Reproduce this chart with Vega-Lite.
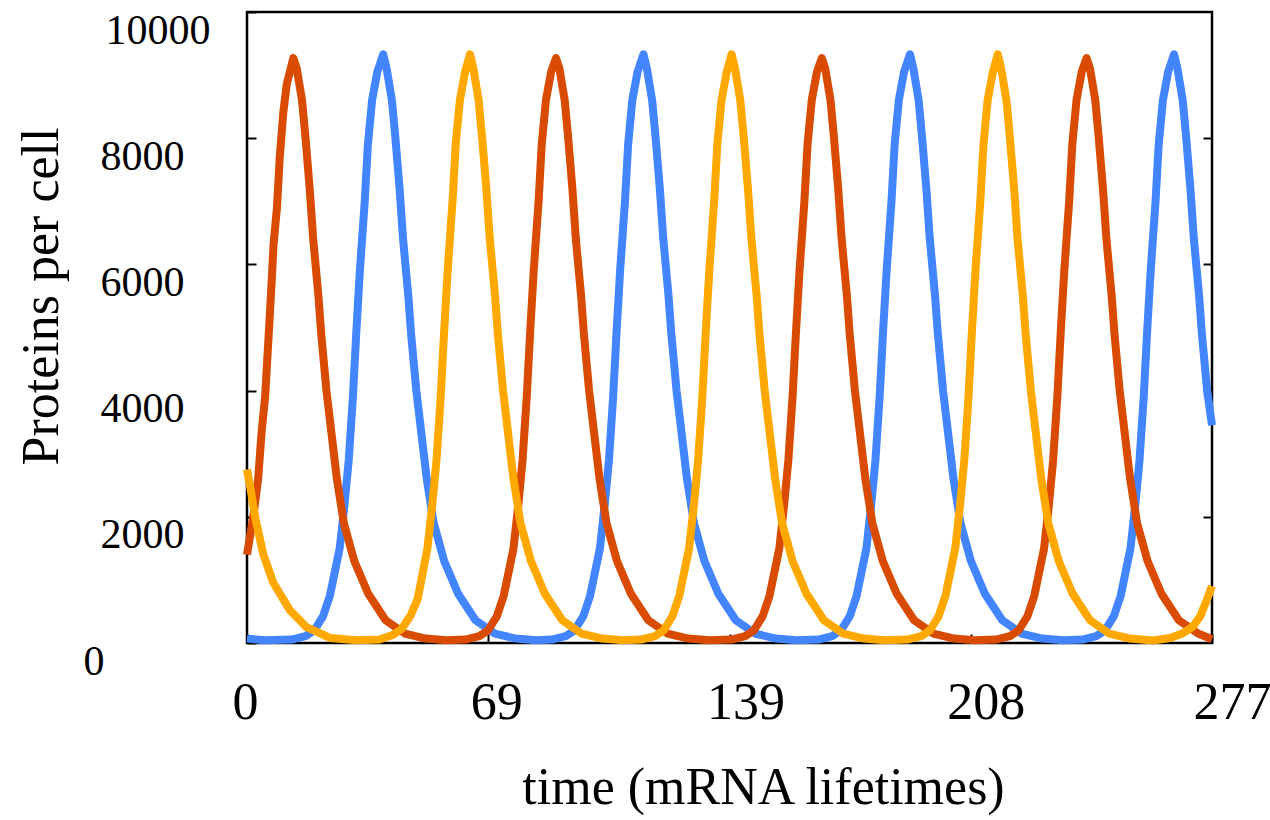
{
  "$schema": "https://vega.github.io/schema/vega-lite/v6.json",
  "width": 965,
  "height": 631,
  "autosize": "none",
  "padding": {"left": 247, "top": 12, "right": 58, "bottom": 177},
  "background": "white",
  "view": {"stroke": "black", "strokeWidth": 2.5},
  "config": {
    "axis": {"labelFont": "Liberation Serif", "titleFont": "Liberation Serif", "labelColor": "black", "titleColor": "black", "tickColor": "black", "tickWidth": 2, "grid": false, "domain": false, "titleFontWeight": "normal", "labelOverlap": false, "labelBound": false, "labelFlush": false}
  },
  "data": {"values": [
    {"s":"P1","t":0,"v":70},{"s":"P1","t":5,"v":45},{"s":"P1","t":12.8,"v":55},{"s":"P1","t":16.8,"v":110},{"s":"P1","t":19.3,"v":200},{"s":"P1","t":21.8,"v":420},{"s":"P1","t":23.8,"v":750},{"s":"P1","t":26.6,"v":1500},{"s":"P1","t":28.0,"v":2200},{"s":"P1","t":29.2,"v":2900},{"s":"P1","t":30.4,"v":3900},{"s":"P1","t":31.4,"v":4950},{"s":"P1","t":32.4,"v":5900},{"s":"P1","t":33.8,"v":7000},{"s":"P1","t":34.7,"v":7900},{"s":"P1","t":35.9,"v":8600},{"s":"P1","t":37.4,"v":9050},{"s":"P1","t":39.1,"v":9330},
    {"s":"P1","t":40.1,"v":9100},{"s":"P1","t":41.6,"v":8600},{"s":"P1","t":42.6,"v":8000},{"s":"P1","t":43.8,"v":7200},{"s":"P1","t":44.8,"v":6400},{"s":"P1","t":46.3,"v":5500},{"s":"P1","t":47.1,"v":4900},{"s":"P1","t":48.6,"v":4000},{"s":"P1","t":50.1,"v":3300},{"s":"P1","t":51.6,"v":2600},{"s":"P1","t":53.6,"v":1900},{"s":"P1","t":56.6,"v":1300},{"s":"P1","t":60.6,"v":780},{"s":"P1","t":65.6,"v":360},{"s":"P1","t":71.1,"v":150},{"s":"P1","t":77.1,"v":70},{"s":"P1","t":83.1,"v":45},
    {"s":"P1","t":87.5,"v":55},{"s":"P1","t":91.5,"v":110},{"s":"P1","t":94.0,"v":200},{"s":"P1","t":96.5,"v":420},{"s":"P1","t":98.5,"v":750},{"s":"P1","t":101.3,"v":1500},{"s":"P1","t":102.7,"v":2200},{"s":"P1","t":103.9,"v":2900},{"s":"P1","t":105.1,"v":3900},{"s":"P1","t":106.1,"v":4950},{"s":"P1","t":107.1,"v":5900},{"s":"P1","t":108.5,"v":7000},{"s":"P1","t":109.4,"v":7900},{"s":"P1","t":110.6,"v":8600},{"s":"P1","t":112.1,"v":9050},{"s":"P1","t":113.8,"v":9330},
    {"s":"P1","t":114.8,"v":9100},{"s":"P1","t":116.3,"v":8600},{"s":"P1","t":117.3,"v":8000},{"s":"P1","t":118.5,"v":7200},{"s":"P1","t":119.5,"v":6400},{"s":"P1","t":121.0,"v":5500},{"s":"P1","t":121.8,"v":4900},{"s":"P1","t":123.3,"v":4000},{"s":"P1","t":124.8,"v":3300},{"s":"P1","t":126.3,"v":2600},{"s":"P1","t":128.3,"v":1900},{"s":"P1","t":131.3,"v":1300},{"s":"P1","t":135.3,"v":780},{"s":"P1","t":140.3,"v":360},{"s":"P1","t":145.8,"v":150},{"s":"P1","t":151.8,"v":70},{"s":"P1","t":157.8,"v":45},
    {"s":"P1","t":164.0,"v":55},{"s":"P1","t":168.0,"v":110},{"s":"P1","t":170.5,"v":200},{"s":"P1","t":173.0,"v":420},{"s":"P1","t":175.0,"v":750},{"s":"P1","t":177.8,"v":1500},{"s":"P1","t":179.2,"v":2200},{"s":"P1","t":180.4,"v":2900},{"s":"P1","t":181.6,"v":3900},{"s":"P1","t":182.6,"v":4950},{"s":"P1","t":183.6,"v":5900},{"s":"P1","t":185.0,"v":7000},{"s":"P1","t":185.9,"v":7900},{"s":"P1","t":187.1,"v":8600},{"s":"P1","t":188.6,"v":9050},{"s":"P1","t":190.3,"v":9330},
    {"s":"P1","t":191.3,"v":9100},{"s":"P1","t":192.8,"v":8600},{"s":"P1","t":193.8,"v":8000},{"s":"P1","t":195.0,"v":7200},{"s":"P1","t":196.0,"v":6400},{"s":"P1","t":197.5,"v":5500},{"s":"P1","t":198.3,"v":4900},{"s":"P1","t":199.8,"v":4000},{"s":"P1","t":201.3,"v":3300},{"s":"P1","t":202.8,"v":2600},{"s":"P1","t":204.8,"v":1900},{"s":"P1","t":207.8,"v":1300},{"s":"P1","t":211.8,"v":780},{"s":"P1","t":216.8,"v":360},{"s":"P1","t":222.3,"v":150},{"s":"P1","t":228.3,"v":70},{"s":"P1","t":234.3,"v":45},
    {"s":"P1","t":239.8,"v":55},{"s":"P1","t":243.8,"v":110},{"s":"P1","t":246.3,"v":200},{"s":"P1","t":248.8,"v":420},{"s":"P1","t":250.8,"v":750},{"s":"P1","t":253.6,"v":1500},{"s":"P1","t":255.0,"v":2200},{"s":"P1","t":256.2,"v":2900},{"s":"P1","t":257.4,"v":3900},{"s":"P1","t":258.4,"v":4950},{"s":"P1","t":259.4,"v":5900},{"s":"P1","t":260.8,"v":7000},{"s":"P1","t":261.7,"v":7900},{"s":"P1","t":262.9,"v":8600},{"s":"P1","t":264.4,"v":9050},{"s":"P1","t":266.1,"v":9330},
    {"s":"P1","t":267.1,"v":9100},{"s":"P1","t":268.6,"v":8600},{"s":"P1","t":269.6,"v":8000},{"s":"P1","t":270.8,"v":7200},{"s":"P1","t":271.8,"v":6400},{"s":"P1","t":273.3,"v":5500},{"s":"P1","t":274.1,"v":4900},{"s":"P1","t":275.6,"v":4000},{"s":"P1","t":277,"v":3450},

    {"s":"P2","t":0,"v":1400},{"s":"P2","t":1.8,"v":2000},{"s":"P2","t":3.2,"v":2600},{"s":"P2","t":4.2,"v":3350},{"s":"P2","t":5.2,"v":3900},{"s":"P2","t":6.4,"v":5050},{"s":"P2","t":7.1,"v":5750},{"s":"P2","t":7.6,"v":6300},{"s":"P2","t":8.6,"v":6900},{"s":"P2","t":9.4,"v":7700},{"s":"P2","t":10.4,"v":8400},{"s":"P2","t":11.4,"v":8850},{"s":"P2","t":13.3,"v":9270},
    {"s":"P2","t":14.3,"v":9100},{"s":"P2","t":15.8,"v":8600},{"s":"P2","t":16.8,"v":8000},{"s":"P2","t":18.0,"v":7200},{"s":"P2","t":19.0,"v":6400},{"s":"P2","t":20.5,"v":5500},{"s":"P2","t":21.3,"v":4900},{"s":"P2","t":22.8,"v":4000},{"s":"P2","t":24.3,"v":3300},{"s":"P2","t":25.8,"v":2600},{"s":"P2","t":27.8,"v":1900},{"s":"P2","t":30.8,"v":1300},{"s":"P2","t":34.8,"v":780},{"s":"P2","t":39.8,"v":360},{"s":"P2","t":45.3,"v":150},{"s":"P2","t":51.3,"v":70},{"s":"P2","t":57.3,"v":45},
    {"s":"P2","t":62.7,"v":55},{"s":"P2","t":66.7,"v":110},{"s":"P2","t":69.2,"v":200},{"s":"P2","t":71.7,"v":420},{"s":"P2","t":73.7,"v":750},{"s":"P2","t":76.5,"v":1500},{"s":"P2","t":77.9,"v":2200},{"s":"P2","t":79.1,"v":2900},{"s":"P2","t":80.3,"v":3900},{"s":"P2","t":81.3,"v":4950},{"s":"P2","t":82.3,"v":5900},{"s":"P2","t":83.7,"v":7000},{"s":"P2","t":84.6,"v":7900},{"s":"P2","t":85.8,"v":8600},{"s":"P2","t":87.3,"v":9050},{"s":"P2","t":88.7,"v":9270},
    {"s":"P2","t":89.7,"v":9100},{"s":"P2","t":91.2,"v":8600},{"s":"P2","t":92.2,"v":8000},{"s":"P2","t":93.4,"v":7200},{"s":"P2","t":94.4,"v":6400},{"s":"P2","t":95.9,"v":5500},{"s":"P2","t":96.7,"v":4900},{"s":"P2","t":98.2,"v":4000},{"s":"P2","t":99.7,"v":3300},{"s":"P2","t":101.2,"v":2600},{"s":"P2","t":103.2,"v":1900},{"s":"P2","t":106.2,"v":1300},{"s":"P2","t":110.2,"v":780},{"s":"P2","t":115.2,"v":360},{"s":"P2","t":120.7,"v":150},{"s":"P2","t":126.7,"v":70},{"s":"P2","t":132.7,"v":45},
    {"s":"P2","t":139.0,"v":55},{"s":"P2","t":143.0,"v":110},{"s":"P2","t":145.5,"v":200},{"s":"P2","t":148.0,"v":420},{"s":"P2","t":150.0,"v":750},{"s":"P2","t":152.8,"v":1500},{"s":"P2","t":154.2,"v":2200},{"s":"P2","t":155.4,"v":2900},{"s":"P2","t":156.6,"v":3900},{"s":"P2","t":157.6,"v":4950},{"s":"P2","t":158.6,"v":5900},{"s":"P2","t":160.0,"v":7000},{"s":"P2","t":160.9,"v":7900},{"s":"P2","t":162.1,"v":8600},{"s":"P2","t":163.6,"v":9050},{"s":"P2","t":165.0,"v":9270},
    {"s":"P2","t":166.0,"v":9100},{"s":"P2","t":167.5,"v":8600},{"s":"P2","t":168.5,"v":8000},{"s":"P2","t":169.7,"v":7200},{"s":"P2","t":170.7,"v":6400},{"s":"P2","t":172.2,"v":5500},{"s":"P2","t":173.0,"v":4900},{"s":"P2","t":174.5,"v":4000},{"s":"P2","t":176.0,"v":3300},{"s":"P2","t":177.5,"v":2600},{"s":"P2","t":179.5,"v":1900},{"s":"P2","t":182.5,"v":1300},{"s":"P2","t":186.5,"v":780},{"s":"P2","t":191.5,"v":360},{"s":"P2","t":197.0,"v":150},{"s":"P2","t":203.0,"v":70},{"s":"P2","t":209.0,"v":45},
    {"s":"P2","t":215.0,"v":55},{"s":"P2","t":219.0,"v":110},{"s":"P2","t":221.5,"v":200},{"s":"P2","t":224.0,"v":420},{"s":"P2","t":226.0,"v":750},{"s":"P2","t":228.8,"v":1500},{"s":"P2","t":230.2,"v":2200},{"s":"P2","t":231.4,"v":2900},{"s":"P2","t":232.6,"v":3900},{"s":"P2","t":233.6,"v":4950},{"s":"P2","t":234.6,"v":5900},{"s":"P2","t":236.0,"v":7000},{"s":"P2","t":236.9,"v":7900},{"s":"P2","t":238.1,"v":8600},{"s":"P2","t":239.6,"v":9050},{"s":"P2","t":241.0,"v":9270},
    {"s":"P2","t":242.0,"v":9100},{"s":"P2","t":243.5,"v":8600},{"s":"P2","t":244.5,"v":8000},{"s":"P2","t":245.7,"v":7200},{"s":"P2","t":246.7,"v":6400},{"s":"P2","t":248.2,"v":5500},{"s":"P2","t":249.0,"v":4900},{"s":"P2","t":250.5,"v":4000},{"s":"P2","t":252.0,"v":3300},{"s":"P2","t":253.5,"v":2600},{"s":"P2","t":255.5,"v":1900},{"s":"P2","t":258.5,"v":1300},{"s":"P2","t":262.5,"v":780},{"s":"P2","t":267.5,"v":360},{"s":"P2","t":273.0,"v":150},{"s":"P2","t":277,"v":60},

    {"s":"P3","t":0,"v":2750},{"s":"P3","t":1.0,"v":2450},{"s":"P3","t":2.5,"v":1950},{"s":"P3","t":4.7,"v":1400},{"s":"P3","t":7.6,"v":950},{"s":"P3","t":12.3,"v":520},{"s":"P3","t":17.1,"v":250},{"s":"P3","t":23.8,"v":80},{"s":"P3","t":31.5,"v":45},
    {"s":"P3","t":38.0,"v":55},{"s":"P3","t":42.0,"v":130},{"s":"P3","t":44.5,"v":230},{"s":"P3","t":47.0,"v":440},{"s":"P3","t":49.0,"v":700},{"s":"P3","t":51.8,"v":1500},{"s":"P3","t":53.2,"v":2200},{"s":"P3","t":54.4,"v":2900},{"s":"P3","t":55.6,"v":3900},{"s":"P3","t":56.6,"v":4950},{"s":"P3","t":57.6,"v":5900},{"s":"P3","t":59.0,"v":7000},{"s":"P3","t":59.9,"v":7900},{"s":"P3","t":61.1,"v":8600},{"s":"P3","t":62.6,"v":9050},{"s":"P3","t":64.0,"v":9330},
    {"s":"P3","t":65.0,"v":9100},{"s":"P3","t":66.5,"v":8600},{"s":"P3","t":67.5,"v":8000},{"s":"P3","t":68.7,"v":7200},{"s":"P3","t":69.7,"v":6400},{"s":"P3","t":71.2,"v":5500},{"s":"P3","t":72.0,"v":4900},{"s":"P3","t":73.5,"v":4000},{"s":"P3","t":75.0,"v":3300},{"s":"P3","t":76.5,"v":2600},{"s":"P3","t":78.5,"v":1900},{"s":"P3","t":81.5,"v":1300},{"s":"P3","t":85.5,"v":780},{"s":"P3","t":90.5,"v":360},{"s":"P3","t":96.0,"v":150},{"s":"P3","t":102.0,"v":70},{"s":"P3","t":108.0,"v":45},
    {"s":"P3","t":113.1,"v":55},{"s":"P3","t":117.1,"v":110},{"s":"P3","t":119.6,"v":200},{"s":"P3","t":122.1,"v":420},{"s":"P3","t":124.1,"v":750},{"s":"P3","t":126.9,"v":1500},{"s":"P3","t":128.3,"v":2200},{"s":"P3","t":129.5,"v":2900},{"s":"P3","t":130.7,"v":3900},{"s":"P3","t":131.7,"v":4950},{"s":"P3","t":132.7,"v":5900},{"s":"P3","t":134.1,"v":7000},{"s":"P3","t":135.0,"v":7900},{"s":"P3","t":136.2,"v":8600},{"s":"P3","t":137.7,"v":9050},{"s":"P3","t":139.1,"v":9330},
    {"s":"P3","t":140.1,"v":9100},{"s":"P3","t":141.6,"v":8600},{"s":"P3","t":142.6,"v":8000},{"s":"P3","t":143.8,"v":7200},{"s":"P3","t":144.8,"v":6400},{"s":"P3","t":146.3,"v":5500},{"s":"P3","t":147.1,"v":4900},{"s":"P3","t":148.6,"v":4000},{"s":"P3","t":150.1,"v":3300},{"s":"P3","t":151.6,"v":2600},{"s":"P3","t":153.6,"v":1900},{"s":"P3","t":156.6,"v":1300},{"s":"P3","t":160.6,"v":780},{"s":"P3","t":165.6,"v":360},{"s":"P3","t":171.1,"v":150},{"s":"P3","t":177.1,"v":70},{"s":"P3","t":183.1,"v":45},
    {"s":"P3","t":189.5,"v":55},{"s":"P3","t":193.5,"v":110},{"s":"P3","t":196.0,"v":200},{"s":"P3","t":198.5,"v":420},{"s":"P3","t":200.5,"v":750},{"s":"P3","t":203.3,"v":1500},{"s":"P3","t":204.7,"v":2200},{"s":"P3","t":205.9,"v":2900},{"s":"P3","t":207.1,"v":3900},{"s":"P3","t":208.1,"v":4950},{"s":"P3","t":209.1,"v":5900},{"s":"P3","t":210.5,"v":7000},{"s":"P3","t":211.4,"v":7900},{"s":"P3","t":212.6,"v":8600},{"s":"P3","t":214.1,"v":9050},{"s":"P3","t":215.5,"v":9330},
    {"s":"P3","t":216.5,"v":9100},{"s":"P3","t":218.0,"v":8600},{"s":"P3","t":219.0,"v":8000},{"s":"P3","t":220.2,"v":7200},{"s":"P3","t":221.2,"v":6400},{"s":"P3","t":222.7,"v":5500},{"s":"P3","t":223.5,"v":4900},{"s":"P3","t":225.0,"v":4000},{"s":"P3","t":226.5,"v":3300},{"s":"P3","t":228.0,"v":2600},{"s":"P3","t":230.0,"v":1900},{"s":"P3","t":233.0,"v":1300},{"s":"P3","t":237.0,"v":780},{"s":"P3","t":242.0,"v":360},{"s":"P3","t":247.5,"v":150},{"s":"P3","t":253.5,"v":70},{"s":"P3","t":260.0,"v":40},
    {"s":"P3","t":265.0,"v":80},{"s":"P3","t":268.8,"v":160},{"s":"P3","t":271.5,"v":260},{"s":"P3","t":273.6,"v":420},{"s":"P3","t":275.5,"v":680},{"s":"P3","t":277,"v":900}
  ]},
  "encoding": {
    "x": {"field": "t", "type": "quantitative", "scale": {"domain": [0, 277], "nice": false, "zero": false},
          "axis": {"values": [0, 69.25, 138.5, 207.75, 277], "labelExpr": "round(datum.value)", "tickSize": -9,
                   "labelFontSize": 52, "labelBaseline": "alphabetic", "labelPadding": 84,
                   "labelOffset": {"expr": "datum.value == 0 ? -2 : (datum.value < 100 ? 8 : (datum.value < 200 ? 16 : (datum.value < 250 ? 15 : 20)))"},
                   "title": "time (mRNA lifetimes)", "titleFontSize": 52, "titleX": 516, "titleY": 160,
                   "titleAlign": "center", "titleBaseline": "alphabetic", "titleAnchor": null}}
  },
  "layer": [
    {
      "mark": {"type": "line", "strokeOpacity": 0},
      "encoding": {
        "y": {"field": "v", "type": "quantitative", "scale": {"domain": [0, 10000], "nice": false},
              "axis": {"orient": "right", "values": [2000, 4000, 6000, 8000], "labels": false, "tickSize": -9, "title": null}},
        "detail": {"field": "s"}
      }
    },
    {
      "mark": {"type": "line", "strokeWidth": 8, "strokeJoin": "round", "strokeCap": "butt"},
      "encoding": {
        "y": {"field": "v", "type": "quantitative", "scale": {"domain": [0, 10000], "nice": false},
              "axis": {"orient": "left", "values": [0, 2000, 4000, 6000, 8000, 10000], "format": "d", "tickSize": -9,
                       "labelFontSize": 42, "labelAlign": "left", "labelBaseline": "alphabetic", "labelOffset": 31,
                       "labelPadding": {"expr": "datum.value == 0 ? 173 : (datum.value == 10000 ? 151 : 156)"},
                       "title": "Proteins per cell", "titleFontSize": 52, "titleAngle": -90, "titleX": -190, "titleY": 284,
                       "titleAlign": "center", "titleBaseline": "alphabetic", "titleAnchor": null}},
        "color": {"field": "s", "type": "nominal", "legend": null,
                  "scale": {"domain": ["P1", "P2", "P3"], "range": ["#4285FF", "#D84B00", "#FFA800"]}}
      }
    }
  ],
  "resolve": {"axis": {"y": "independent"}}
}
